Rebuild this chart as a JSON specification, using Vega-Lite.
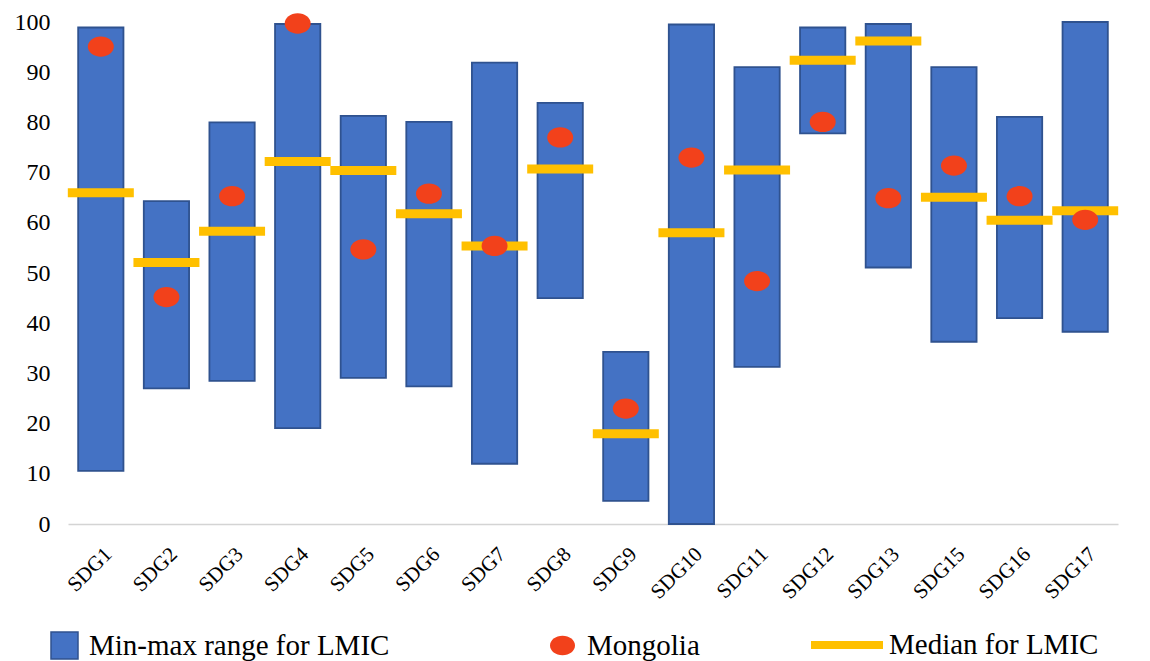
{
  "$schema": "https://vega.github.io/schema/vega-lite/v6.json",
  "autosize": {"type": "none"},
  "padding": {"left": 68, "top": 22, "right": 32, "bottom": 137},
  "width": 1050,
  "height": 502,
  "background": "white",
  "config": {
    "view": {"stroke": null},
    "font": "Liberation Serif",
    "axis": {"labelFont": "Liberation Serif", "labelColor": "#000000", "grid": false, "ticks": false, "title": null},
    "legend": {"labelFont": "Liberation Serif", "labelColor": "#000000", "labelFontSize": 29, "labelLimit": 0, "padding": 0, "orient": "none", "title": null}
  },
  "data": {
    "values": [
      {"sdg": "SDG1", "min": 10.6, "max": 98.9, "mongolia": 95.1, "median": 66.0},
      {"sdg": "SDG2", "min": 27.0, "max": 64.3, "mongolia": 45.2, "median": 52.1},
      {"sdg": "SDG3", "min": 28.5, "max": 80.0, "mongolia": 65.3, "median": 58.3},
      {"sdg": "SDG4", "min": 19.1, "max": 99.6, "mongolia": 99.7, "median": 72.2},
      {"sdg": "SDG5", "min": 29.1, "max": 81.3, "mongolia": 54.7, "median": 70.4},
      {"sdg": "SDG6", "min": 27.4, "max": 80.1, "mongolia": 65.8, "median": 61.8},
      {"sdg": "SDG7", "min": 12.0, "max": 91.9, "mongolia": 55.4, "median": 55.4},
      {"sdg": "SDG8", "min": 45.0, "max": 83.9, "mongolia": 77.0, "median": 70.7},
      {"sdg": "SDG9", "min": 4.6, "max": 34.3, "mongolia": 23.0, "median": 18.0},
      {"sdg": "SDG10", "min": 0.0, "max": 99.5, "mongolia": 73.0, "median": 58.0},
      {"sdg": "SDG11", "min": 31.3, "max": 91.0, "mongolia": 48.4, "median": 70.5},
      {"sdg": "SDG12", "min": 77.8, "max": 98.9, "mongolia": 80.1, "median": 92.4},
      {"sdg": "SDG13", "min": 51.1, "max": 99.6, "mongolia": 64.9, "median": 96.2},
      {"sdg": "SDG15", "min": 36.3, "max": 91.0, "mongolia": 71.4, "median": 65.1},
      {"sdg": "SDG16", "min": 41.0, "max": 81.1, "mongolia": 65.3, "median": 60.5},
      {"sdg": "SDG17", "min": 38.3, "max": 100.0, "mongolia": 60.6, "median": 62.4}
    ]
  },
  "encoding": {
    "x": {
      "field": "sdg",
      "type": "nominal",
      "sort": null,
      "scale": {"paddingInner": 0.31, "paddingOuter": 0.155},
      "axis": {
        "labelAngle": -45,
        "labelFontSize": 21,
        "labelPadding": 19,
        "domainColor": "#d4d4d4",
        "domainWidth": 1.5
      }
    }
  },
  "layer": [
    {
      "mark": {"type": "bar", "stroke": "#2F528F", "strokeWidth": 1.8},
      "encoding": {
        "y": {
          "field": "min",
          "type": "quantitative",
          "scale": {"domain": [0, 100], "nice": false},
          "axis": {"values": [0, 10, 20, 30, 40, 50, 60, 70, 80, 90, 100], "labelFontSize": 24, "labelPadding": 18, "domain": false}
        },
        "y2": {"field": "max"},
        "color": {
          "datum": "Min-max range for LMIC",
          "type": "nominal",
          "scale": {"range": ["#4472C4"]},
          "legend": {
            "legendX": -18,
            "legendY": 609,
            "symbolType": "square",
            "symbolSize": 729,
            "symbolStrokeColor": "#2F528F",
            "symbolStrokeWidth": 1.5,
            "symbolOpacity": 1,
            "labelOffset": 10
          }
        }
      }
    },
    {
      "mark": {"type": "tick", "size": 66, "thickness": 9, "opacity": 1},
      "encoding": {
        "y": {"field": "median", "type": "quantitative"},
        "color": {
          "datum": "Median for LMIC",
          "type": "nominal",
          "scale": {"range": ["#FFC000"]},
          "legend": {
            "legendX": 743,
            "legendY": 587,
            "symbolType": "M-1,-0.11H1V0.11H-1Z",
            "symbolSize": 5184,
            "symbolStrokeWidth": 0,
            "symbolOpacity": 1,
            "labelOffset": 6
          }
        }
      }
    },
    {
      "mark": {"type": "point", "filled": true, "opacity": 1, "shape": "M-1,0A1,0.78 0 1,0 1,0A1,0.78 0 1,0 -1,0Z", "size": 676},
      "encoding": {
        "y": {"field": "mongolia", "type": "quantitative"},
        "color": {
          "datum": "Mongolia",
          "type": "nominal",
          "scale": {"range": ["#F2411B"]},
          "legend": {
            "legendX": 480,
            "legendY": 609,
            "symbolType": "M-1,0A1,0.78 0 1,0 1,0A1,0.78 0 1,0 -1,0Z",
            "symbolSize": 625,
            "symbolStrokeWidth": 0,
            "symbolOpacity": 1,
            "labelOffset": 10
          }
        }
      }
    }
  ],
  "resolve": {"scale": {"color": "independent"}, "legend": {"color": "independent"}}
}
